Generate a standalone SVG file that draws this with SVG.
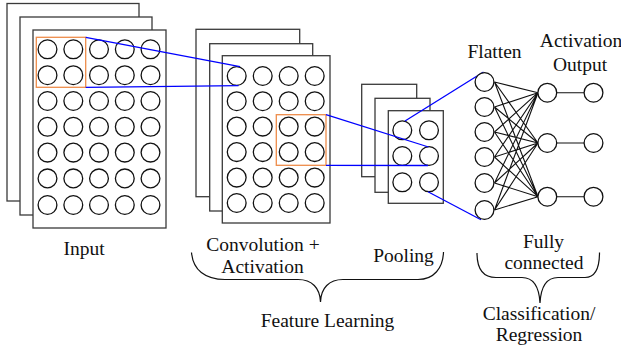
<svg xmlns="http://www.w3.org/2000/svg" width="621" height="353" viewBox="0 0 621 353" font-family="'Liberation Serif', 'DejaVu Serif', serif">
<defs>
<style>
.fr{fill:#fff;stroke:#3a3a3a;stroke-width:1.3}
.n{fill:#fff;stroke:#111;stroke-width:1.3}
.ln{stroke:#111;stroke-width:1.1;fill:none}
.bl{stroke:#0000ff;stroke-width:1.3;fill:none}
.or{fill:none;stroke:#ee8c4a;stroke-width:1.3}
.br{fill:none;stroke:#111;stroke-width:1.2}
.t{font-family:'Liberation Serif','DejaVu Serif',serif;font-size:19.5px;fill:#111;text-anchor:middle}
</style>
<circle id="c" r="9.4" class="n"/>
</defs>
<rect width="621" height="353" fill="#fff"/>

<g id="input">
<rect x="7" y="3.5" width="132" height="197.5" class="fr"/>
<rect x="20" y="17" width="132" height="198" class="fr"/>
<rect x="33" y="30" width="133" height="198" class="fr"/>
<g>
<use href="#c" x="47.5" y="49.3"/><use href="#c" x="73.3" y="49.3"/><use href="#c" x="99" y="49.3"/><use href="#c" x="124.8" y="49.3"/><use href="#c" x="150.5" y="49.3"/>
<use href="#c" x="47.5" y="75.2"/><use href="#c" x="73.3" y="75.2"/><use href="#c" x="99" y="75.2"/><use href="#c" x="124.8" y="75.2"/><use href="#c" x="150.5" y="75.2"/>
<use href="#c" x="47.5" y="101"/><use href="#c" x="73.3" y="101"/><use href="#c" x="99" y="101"/><use href="#c" x="124.8" y="101"/><use href="#c" x="150.5" y="101"/>
<use href="#c" x="47.5" y="126.8"/><use href="#c" x="73.3" y="126.8"/><use href="#c" x="99" y="126.8"/><use href="#c" x="124.8" y="126.8"/><use href="#c" x="150.5" y="126.8"/>
<use href="#c" x="47.5" y="152.6"/><use href="#c" x="73.3" y="152.6"/><use href="#c" x="99" y="152.6"/><use href="#c" x="124.8" y="152.6"/><use href="#c" x="150.5" y="152.6"/>
<use href="#c" x="47.5" y="178.4"/><use href="#c" x="73.3" y="178.4"/><use href="#c" x="99" y="178.4"/><use href="#c" x="124.8" y="178.4"/><use href="#c" x="150.5" y="178.4"/>
<use href="#c" x="47.5" y="205"/><use href="#c" x="73.3" y="205"/><use href="#c" x="99" y="205"/><use href="#c" x="124.8" y="205"/><use href="#c" x="150.5" y="205"/>
</g>
<rect x="36.3" y="37.3" width="49.4" height="50" class="or"/>
<text class="t" x="84" y="255">Input</text>
</g>

<g id="conv">
<rect x="196" y="29.3" width="103.7" height="167.4" class="fr"/>
<rect x="209.7" y="43.7" width="103" height="167.3" class="fr"/>
<rect x="222.3" y="55.7" width="107.7" height="167.3" class="fr"/>
<g>
<use href="#c" x="236.7" y="76"/><use href="#c" x="262.7" y="76"/><use href="#c" x="288.7" y="76"/><use href="#c" x="314.7" y="76"/>
<use href="#c" x="236.7" y="101.2"/><use href="#c" x="262.7" y="101.2"/><use href="#c" x="288.7" y="101.2"/><use href="#c" x="314.7" y="101.2"/>
<use href="#c" x="236.7" y="126.6"/><use href="#c" x="262.7" y="126.6"/><use href="#c" x="288.7" y="126.6"/><use href="#c" x="314.7" y="126.6"/>
<use href="#c" x="236.7" y="152.1"/><use href="#c" x="262.7" y="152.1"/><use href="#c" x="288.7" y="152.1"/><use href="#c" x="314.7" y="152.1"/>
<use href="#c" x="236.7" y="177.6"/><use href="#c" x="262.7" y="177.6"/><use href="#c" x="288.7" y="177.6"/><use href="#c" x="314.7" y="177.6"/>
<use href="#c" x="236.7" y="203"/><use href="#c" x="262.7" y="203"/><use href="#c" x="288.7" y="203"/><use href="#c" x="314.7" y="203"/>
</g>
<rect x="276.3" y="114.7" width="49.7" height="50.6" class="or"/>
<text class="t" x="263" y="250.5">Convolution +</text>
<text class="t" x="262.5" y="272.5">Activation</text>
</g>

<g id="pool">
<rect x="361.7" y="84.3" width="55" height="92.4" class="fr"/>
<rect x="375" y="98.3" width="55" height="94" class="fr"/>
<rect x="388.3" y="110.7" width="55" height="92.6" class="fr"/>
<use href="#c" x="402.3" y="130.3"/><use href="#c" x="429" y="130.3"/>
<use href="#c" x="402.3" y="156"/><use href="#c" x="429" y="156"/>
<use href="#c" x="402.3" y="182.3"/><use href="#c" x="429" y="182.3"/>
<text class="t" x="403.5" y="262">Pooling</text>
</g>

<g id="connectors">
<line x1="85.7" y1="37.3" x2="240" y2="66.7" class="bl"/>
<line x1="85.7" y1="87.3" x2="238.5" y2="85.7" class="bl"/>
<line x1="326" y1="114.7" x2="428.5" y2="147" class="bl"/>
<line x1="326" y1="165.3" x2="428" y2="165.5" class="bl"/>
<line x1="405" y1="121" x2="483.5" y2="72" class="bl"/>
<line x1="428" y1="191.7" x2="481" y2="219.8" class="bl"/>
<g class="ln">
<path d="M494.5 82L538 92.7M494.5 82L538 143M494.5 82L538 196.7
M494.5 107L538 92.7M494.5 107L538 143M494.5 107L538 196.7
M494.5 132L538 92.7M494.5 132L538 143M494.5 132L538 196.7
M494.5 157L538 92.7M494.5 157L538 143M494.5 157L538 196.7
M494.5 183L538 92.7M494.5 183L538 143M494.5 183L538 196.7
M494.5 210L538 92.7M494.5 210L538 143M494.5 210L538 196.7
M557 92.7H584M557 143H584M557 196.7H584"/>
</g>
</g>

<g id="flatten">
<use href="#c" x="484.5" y="82"/><use href="#c" x="484.5" y="107"/><use href="#c" x="484.5" y="132"/>
<use href="#c" x="484.5" y="157"/><use href="#c" x="484.5" y="183"/><use href="#c" x="484.5" y="210"/>
<text class="t" x="494.5" y="58">Flatten</text>
</g>

<g id="activation">
<use href="#c" x="547.3" y="92.7"/><use href="#c" x="547.3" y="143"/><use href="#c" x="547.3" y="196.7"/>
</g>

<g id="output">
<use href="#c" x="593.5" y="92.7"/><use href="#c" x="593.5" y="143"/><use href="#c" x="593.5" y="196.7"/>
<text class="t" x="581" y="46.5">Activation</text>
<text class="t" x="580" y="70.5">Output</text>
</g>

<g id="feature-brace">
<path class="br" d="M191.5 252.5C193 270 205 279.5 225 279.5H298C312 279.5 320 288 320.5 302C321 288 329 279.5 343 279.5H418C434 279.5 443 268 443.5 252"/>
<text class="t" x="327.5" y="326.5">Feature Learning</text>
</g>

<g id="fc-brace">
<path class="br" d="M477 253C477 268 482 277.5 496 277.5H522C533 277.5 539 285 540 303C541 285 547 277.5 558 277.5H585C596 277.5 599.5 268 599.5 252.5"/>
<text class="t" x="543.5" y="247.5">Fully</text>
<text class="t" x="544" y="269">connected</text>
<text class="t" x="539" y="320">Classification/</text>
<text class="t" x="539" y="341">Regression</text>
</g>
</svg>
